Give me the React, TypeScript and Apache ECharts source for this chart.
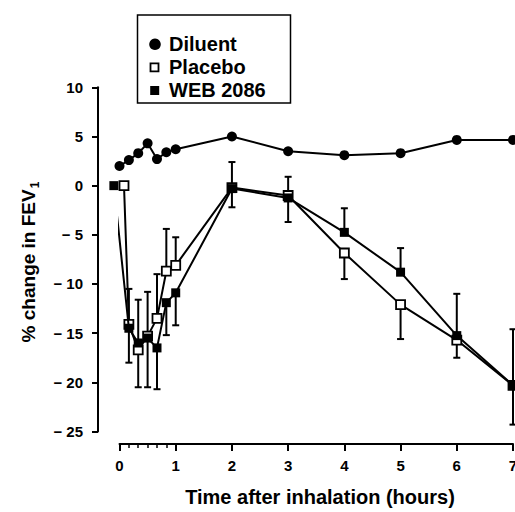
import React, { useEffect, useRef } from "react";
import * as echarts from "echarts";

// Time after inhalation (hours)
const diluentTimes = [0, 0.167, 0.333, 0.5, 0.667, 0.833, 1, 2, 3, 4, 5, 6, 7];
const diluentValues = [2.0, 2.6, 3.3, 4.3, 2.7, 3.4, 3.7, 5.0, 3.5, 3.1, 3.3, 4.65, 4.65];

const placeboTimes = [0.08, 0.167, 0.333, 0.5, 0.667, 0.833, 1, 2, 3, 4, 5, 6, 7];
const placeboValues = [0, -14.1, -16.7, -15.3, -13.5, -8.7, -8.1, -0.2, -1.0, -6.85, -12.1, -15.7, -20.3];
const placeboErrLow = [null, null, null, null, null, null, null, null, null, -9.5, -15.6, null, null];
const placeboErrHigh = [null, null, null, null, -9.0, -4.4, -5.25, null, null, null, null, null, null];

const webTimes = [-0.1, 0.167, 0.333, 0.5, 0.667, 0.833, 1, 2, 3, 4, 5, 6, 7];
const webValues = [0, -14.5, -16.0, -15.5, -16.5, -11.9, -10.9, -0.3, -1.25, -4.75, -8.8, -15.25, -20.3];
const webErrLow = [null, -18.0, -20.5, -20.5, -20.7, -15.2, -14.2, -2.2, -3.7, null, null, -17.5, -24.3];
const webErrHigh = [null, -10.5, -11.6, -10.8, null, null, null, 2.4, 0.9, -2.3, -6.35, -11.0, -14.6];

const xTicks = [0, 1, 2, 3, 4, 5, 6, 7];
const yTicks = [-25, -20, -15, -10, -5, 0, 5, 10];

const legendNames = ["Diluent", "Placebo", "WEB 2086"];
const xTitle = "Time after inhalation (hours)";
const yTitle = "% change in FEV";

const FONT = "'Liberation Sans', Arial, sans-serif";

function errData(times: number[], vals: number[], lo: (number | null)[], hi: (number | null)[]) {
  const out: number[][] = [];
  times.forEach((t, i) => {
    if (lo[i] == null && hi[i] == null) return;
    out.push([
      t,
      lo[i] == null ? vals[i] : (lo[i] as number),
      hi[i] == null ? vals[i] : (hi[i] as number),
      lo[i] == null ? 0 : 1,
      hi[i] == null ? 0 : 1,
    ]);
  });
  return out;
}

function pairs(times: number[], vals: number[]) {
  return times.map((t, i) => [t, vals[i]]);
}

export default function App() {
  const ref = useRef<HTMLDivElement>(null);
  useEffect(() => {
    if (!ref.current) return;
    const chart = echarts.init(ref.current, null, { renderer: "svg" });
    const renderErr = (params: any, api: any) => {
      const x = api.value(0);
      const lo = api.value(1);
      const hi = api.value(2);
      const capLo = api.value(3);
      const capHi = api.value(4);
      const pTop = api.coord([x, hi]);
      const pBot = api.coord([x, lo]);
      const w = 3.5;
      const st = { stroke: "#000", lineWidth: 2 };
      const children: any[] = [
        { type: "line", shape: { x1: pTop[0], y1: pTop[1], x2: pBot[0], y2: pBot[1] }, style: st },
      ];
      if (capHi) children.push({ type: "line", shape: { x1: pTop[0] - w, y1: pTop[1], x2: pTop[0] + w, y2: pTop[1] }, style: st });
      if (capLo) children.push({ type: "line", shape: { x1: pBot[0] - w, y1: pBot[1], x2: pBot[0] + w, y2: pBot[1] }, style: st });
      return { type: "group", children };
    };
    const gridTop = 87.3;
    const gridBottom = 80.5;
    const gridLeft = 119.5;
    const option: any = {
      animation: false,
      backgroundColor: "#fff",
      grid: [
        { left: gridLeft, right: 2, top: gridTop, bottom: gridBottom, outerBoundsMode: "none" },
        { left: gridLeft, width: 56.2, top: gridTop, bottom: gridBottom, outerBoundsMode: "none" },
      ],
      xAxis: [
        {
          type: "value",
          gridIndex: 0,
          min: xTicks[0],
          max: xTicks[xTicks.length - 1],
          interval: 1,
          offset: 12.5,
          splitLine: { show: false },
          axisLine: { show: true, onZero: false, lineStyle: { color: "#000", width: 2 } },
          axisTick: { show: true, inside: false, length: 7, lineStyle: { color: "#000", width: 2 } },
          axisLabel: {
            show: true,
            margin: 14,
            color: "#000",
            fontFamily: FONT,
            fontWeight: "bold",
            fontSize: 15,
            formatter: (v: number) => String(v),
          },
        },
        {
          type: "value",
          gridIndex: 1,
          min: 0,
          max: 1,
          interval: 0.16666666666666666,
          offset: 12.5,
          position: "bottom",
          splitLine: { show: false },
          axisLine: { show: false, onZero: false },
          axisTick: { show: true, length: 4, lineStyle: { color: "#000", width: 1.5 } },
          axisLabel: { show: false },
        },
      ],
      yAxis: [
        {
          type: "value",
          gridIndex: 0,
          min: yTicks[0],
          max: yTicks[yTicks.length - 1],
          interval: 5,
          offset: gridLeft - 98,
          splitLine: { show: false },
          axisLine: { show: true, onZero: false, lineStyle: { color: "#000", width: 2 } },
          axisTick: { show: true, length: 6, lineStyle: { color: "#000", width: 2 } },
          axisLabel: {
            margin: 15,
            color: "#000",
            fontFamily: FONT,
            fontWeight: "bold",
            fontSize: 15,
            formatter: (v: number) => (v < 0 ? "\u2212 " + Math.abs(v) : String(v)),
          },
        },
        {
          type: "value",
          gridIndex: 1,
          min: -25,
          max: 10,
          show: false,
        },
      ],
      series: [
        {
          name: legendNames[0],
          type: "line",
          data: pairs(diluentTimes, diluentValues),
          symbol: "circle",
          symbolSize: 10,
          showAllSymbol: true,
          clip: false,
          lineStyle: { color: "#000", width: 2 },
          itemStyle: { color: "#000" },
          z: 3,
        },
        {
          name: "placeboErr",
          type: "custom",
          data: errData(placeboTimes, placeboValues, placeboErrLow, placeboErrHigh),
          renderItem: renderErr,
          encode: { x: 0, y: [1, 2] },
          clip: false,
          z: 2,
        },
        {
          name: "webErr",
          type: "custom",
          data: errData(webTimes, webValues, webErrLow, webErrHigh),
          renderItem: renderErr,
          encode: { x: 0, y: [1, 2] },
          clip: false,
          z: 2,
        },
        {
          name: legendNames[1],
          type: "line",
          data: pairs(placeboTimes, placeboValues),
          symbol: "rect",
          symbolSize: 9,
          showAllSymbol: true,
          clip: false,
          lineStyle: { color: "#000", width: 2 },
          itemStyle: { color: "#fff", borderColor: "#000", borderWidth: 1.8 },
          z: 4,
        },
        {
          name: legendNames[2],
          type: "line",
          data: pairs(webTimes, webValues),
          symbol: "rect",
          symbolSize: 9,
          showAllSymbol: true,
          clip: false,
          lineStyle: { color: "#000", width: 2 },
          itemStyle: { color: "#000" },
          z: 5,
        },
      ],
      graphic: [
        {
          type: "rect",
          shape: { x: 137.5, y: 15, width: 153, height: 88 },
          style: { fill: "none", stroke: "#000", lineWidth: 1.5 },
        },
        { type: "circle", shape: { cx: 155, cy: 44.3, r: 5.8 }, style: { fill: "#000" } },
        {
          type: "rect",
          shape: { x: 150.5, y: 63.3, width: 8, height: 8 },
          style: { fill: "#fff", stroke: "#000", lineWidth: 1.8 },
        },
        { type: "rect", shape: { x: 150.2, y: 86, width: 9, height: 9 }, style: { fill: "#000" } },
        ...legendNames.map((n, i) => ({
          type: "text",
          x: 169,
          y: 44.3 + i * 23,
          style: {
            text: n,
            fill: "#000",
            font: `bold 20px ${FONT}`,
            verticalAlign: "middle",
            align: "left",
          },
        })),
        {
          type: "text",
          x: 320,
          y: 496.7,
          style: {
            text: xTitle,
            fill: "#000",
            font: `bold 20px ${FONT}`,
            align: "center",
            verticalAlign: "middle",
          },
        },
        {
          type: "text",
          x: 28.5,
          y: 262,
          rotation: Math.PI / 2,
          style: {
            text: "{a|" + yTitle + "}{s|1}",
            fill: "#000",
            align: "center",
            verticalAlign: "middle",
            rich: {
              a: { fontFamily: FONT, fontWeight: "bold", fontSize: 19, fill: "#000", lineHeight: 24 },
              s: { fontFamily: FONT, fontWeight: "bold", fontSize: 12, fill: "#000", lineHeight: 24, verticalAlign: "bottom", padding: [10, 0, 0, 1] },
            },
          },
        },
      ],
    };
    chart.setOption(option);
    return () => chart.dispose();
  }, []);
  return (
    <div
      ref={ref}
      style={{ position: "absolute", left: 0, top: 0, width: 515, height: 512, background: "#fff" }}
    />
  );
}
